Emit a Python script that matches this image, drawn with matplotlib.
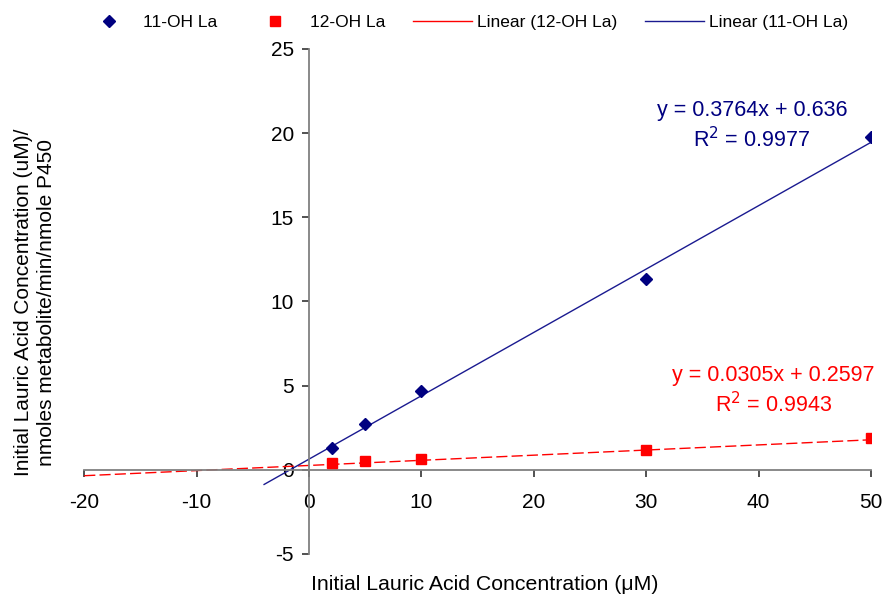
import numpy as np
import matplotlib
matplotlib.use("Agg")
import matplotlib.pyplot as plt
from matplotlib.lines import Line2D

plt.rcParams['font.family'] = ['Liberation Sans', 'DejaVu Sans']
plt.rcParams['axes.unicode_minus'] = False

# ------------------ DATOS ------------------
conc = [2, 5, 10, 30, 50]
oh11 = [1.32, 2.71, 4.69, 11.35, 19.75]
oh12 = [0.42, 0.52, 0.62, 1.17, 1.88]

# lineas de tendencia (Excel)
pend_11, inter_11 = 0.3764, 0.636
pend_12, inter_12 = 0.0305, 0.2597
rango_11 = [-4, 50]
rango_12 = [-20, 50]

azul = '#000080'
rojo = '#ff0000'

fig = plt.figure(figsize=(8.84, 5.96), dpi=100)
ax = fig.add_axes([0.0953, 0.0705, 0.89, 0.8473])

x11 = np.array(rango_11)
x12 = np.array(rango_12)
ax.plot(x12, pend_12 * x12 + inter_12, color=rojo, lw=1, dashes=(8, 3))
ax.plot(x11, pend_11 * x11 + inter_11, color='#1a1a90', lw=1)
ax.plot(conc, oh11, 'D', color=azul, markersize=6.5, linestyle='none', zorder=5)
ax.plot(conc, oh12, 's', color=rojo, markersize=7, linestyle='none', zorder=5)

ax.set_xlim(-20, 50)
ax.set_ylim(-5, 25)
ax.set_xticks(range(-20, 51, 10))
ax.set_yticks(range(-5, 26, 5))

for lado in ['top', 'right']:
    ax.spines[lado].set_visible(False)
ax.spines['left'].set_position(('data', 0))
ax.spines['bottom'].set_position(('data', 0))
for lado in ['left', 'bottom']:
    ax.spines[lado].set_color('#808080')
    ax.spines[lado].set_linewidth(1.3)
ax.tick_params(axis='x', direction='out', length=5, width=1.2, color='#333333',
               labelsize=15, pad=12)
ax.tick_params(axis='y', direction='out', length=5, width=1.2, color='#333333',
               labelsize=15, pad=6)
ax.set_facecolor('none')

# ecuaciones
ax.text(39.4, 20.4, 'y = 0.3764x + 0.636\nR$^2$ = 0.9977', color=azul,
        fontsize=15.5, ha='center', va='center', linespacing=1.3)
ax.text(41.3, 4.7, 'y = 0.0305x + 0.2597\nR$^2$ = 0.9943', color=rojo,
        fontsize=15.5, ha='center', va='center', linespacing=1.3)

# titulos de ejes
fig.text(485 / 884, 1 - 585 / 596, 'Initial Lauric Acid Concentration (μM)',
         fontsize=15.3, ha='center', va='center')
fig.text(35 / 884, 1 - 302 / 596,
         'Initial Lauric Acid Concentration (uM)/\nnmoles metabolite/min/nmole P450',
         fontsize=15, ha='center', va='center', rotation=90,
         multialignment='center', linespacing=1.3)

# leyenda
handles = [
    Line2D([], [], marker='D', color=azul, linestyle='none', markersize=6),
    Line2D([], [], marker='s', color=rojo, linestyle='none', markersize=6.5),
    Line2D([], [], color=rojo, lw=1),
    Line2D([], [], color='#1a1a90', lw=1),
]
labels = ['11-OH La', '12-OH La', 'Linear (12-OH La)', 'Linear (11-OH La)']
fig.legend(handles, labels, loc='center left', bbox_to_anchor=(79 / 884, 1 - 22 / 596),
           ncol=4, frameon=False, fontsize=12.5, handlelength=3.4,
           handletextpad=0.3, columnspacing=1.6, borderpad=0, borderaxespad=0)

fig.savefig('out.png', dpi=100)
